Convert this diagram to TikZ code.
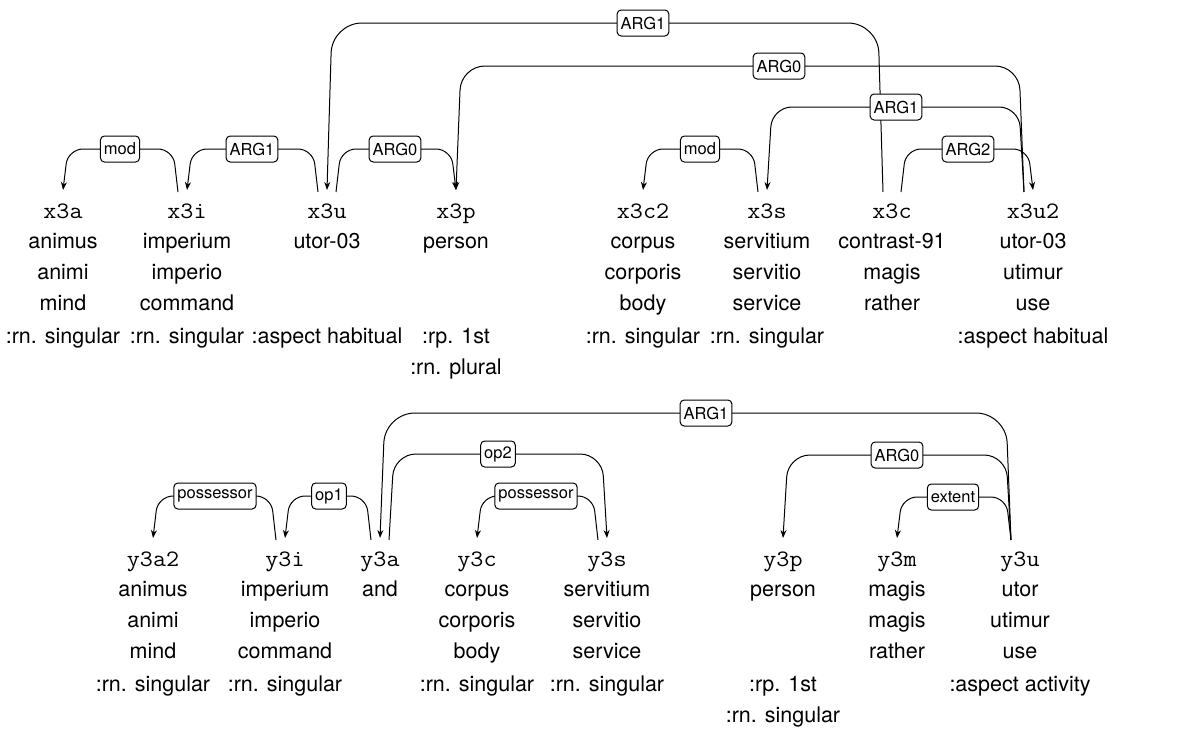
\documentclass[tikz,border=0pt]{standalone}
\usepackage{fontspec}
\setmainfont{TeX Gyre Heros}
\newfontfamily\monof{Latin Modern Mono}[FakeStretch=1.08]
\usetikzlibrary{calc,arrows.meta}

\tikzset{
  idtxt/.style={font=\monof\fontsize{23.5}{26}\selectfont, anchor=base, inner sep=0pt},
  wd/.style={font=\fontsize{21.5}{26}\selectfont, anchor=base, inner sep=0pt},
  lbl/.style={draw, fill=white, rounded corners=4pt, line width=1pt,
    font=\fontsize{16.5}{19}\selectfont, inner xsep=3.5pt, inner ysep=0pt, minimum height=26pt},
  depline/.style={line width=1pt, -{Stealth[length=8pt,width=6pt]}},
}

% a word column: id on top, then its word lines
\newcommand\wordcol[5]{%
  \node[idtxt] (#1) at (#2,#3) {#4};
  \foreach \w [count=\i] in {#5} {\node[wd] (#1-w\i) at (#2,{#3+30.7*\i}) {\w};}
}
% tag lines below a column
\newcommand\tagrow[4]{%
  \foreach \t [count=\i] in {#4} {\node[wd] (#1-t\i) at (#2,{#3+125+31*(\i-1)}) {\t};}
}
% dependency edge: source, target, level, direction (-1 left / 1 right), corner radius
\newcommand\dep[5]{%
  \draw[depline, rounded corners=#5pt] let \p1=(#1.base), \p2=(#2.base) in
    ({\x1+(#4)*9pt},{\y1+26pt}) -- ({\x1+(#4)*14pt},{-(#3)*1pt})
    -- ({\x2-(#4)*5pt},{-(#3)*1pt}) -- (\x2,{\y2+28pt});
}

\begin{document}
\begin{tikzpicture}[x=1pt,y=-1pt]
\fill[white] (0,0) rectangle (1191,728);
\useasboundingbox (0,0) rectangle (1191,728);

% ---- first sentence ----
\wordcol{x3a}{63}{218}{x3a}{animus,animi,mind}
\tagrow{x3a}{63}{218}{:rn. singular}
\wordcol{x3i}{187}{218}{x3i}{imperium,imperio,command}
\tagrow{x3i}{187}{218}{:rn. singular}
\wordcol{x3u}{327}{218}{x3u}{utor-03}
\tagrow{x3u}{327}{218}{:aspect habitual}
\wordcol{x3p}{456}{218}{x3p}{person}
\tagrow{x3p}{456}{218}{:rp. 1st,:rn. plural}
\wordcol{x3c2}{643}{218}{x3c2}{corpus,corporis,body}
\tagrow{x3c2}{643}{218}{:rn. singular}
\wordcol{x3s}{767}{218}{x3s}{servitium,servitio,service}
\tagrow{x3s}{767}{218}{:rn. singular}
\wordcol{x3c}{892}{218}{x3c}{contrast-91,magis,rather}
\wordcol{x3u2}{1033}{218}{x3u2}{utor-03,utimur,use}
\tagrow{x3u2}{1033}{218}{:aspect habitual}

\dep{x3i}{x3a}{149}{-1}{15}
\dep{x3u}{x3i}{149}{-1}{15}
\dep{x3u}{x3p}{149}{1}{15}
\dep{x3c}{x3u}{23}{-1}{30}
\dep{x3u2}{x3p}{66}{-1}{24}
\dep{x3u2}{x3s}{107}{-1}{20}
\dep{x3c}{x3u2}{149}{1}{15}
\dep{x3s}{x3c2}{149}{-1}{15}

\node[lbl] (la1) at (120,149) {mod};
\node[lbl] (la2) at (252,149) {ARG1};
\node[lbl] (la3) at (395,149) {ARG0};
\node[lbl] (la4) at (643,23) {ARG1};
\node[lbl] (la5) at (779,66) {ARG0};
\node[lbl] (la6) at (896,107) {ARG1};
\node[lbl] (la7) at (968,149) {ARG2};
\node[lbl] (la8) at (700,149) {mod};

% ---- second sentence ----
\wordcol{y3a2}{153}{566}{y3a2}{animus,animi,mind}
\tagrow{y3a2}{153}{566}{:rn. singular}
\wordcol{y3i}{285}{566}{y3i}{imperium,imperio,command}
\tagrow{y3i}{285}{566}{:rn. singular}
\wordcol{y3a}{380}{566}{y3a}{and}
\wordcol{y3c}{477}{566}{y3c}{corpus,corporis,body}
\tagrow{y3c}{477}{566}{:rn. singular}
\wordcol{y3s}{607}{566}{y3s}{servitium,servitio,service}
\tagrow{y3s}{607}{566}{:rn. singular}
\wordcol{y3p}{783}{566}{y3p}{person}
\tagrow{y3p}{783}{566}{:rp. 1st,:rn. singular}
\wordcol{y3m}{897}{566}{y3m}{magis,magis,rather}
\wordcol{y3u}{1020}{566}{y3u}{utor,utimur,use}
\tagrow{y3u}{1020}{566}{:aspect activity}

\dep{y3i}{y3a2}{496}{-1}{15}
\dep{y3a}{y3i}{496}{-1}{15}
\dep{y3u}{y3a}{413}{-1}{30}
\dep{y3a}{y3s}{454}{1}{22}
\dep{y3s}{y3c}{496}{-1}{15}
\dep{y3u}{y3p}{455}{-1}{22}
\dep{y3u}{y3m}{497}{-1}{15}

\node[lbl] (lb1) at (215,496) {possessor};
\node[lbl] (lb2) at (329,496) {op1};
\node[lbl] (lb3) at (706,413) {ARG1};
\node[lbl] (lb4) at (498,454) {op2};
\node[lbl] (lb5) at (536,496) {possessor};
\node[lbl] (lb6) at (897,455) {ARG0};
\node[lbl] (lb7) at (953,497) {extent};
\end{tikzpicture}
\end{document}
